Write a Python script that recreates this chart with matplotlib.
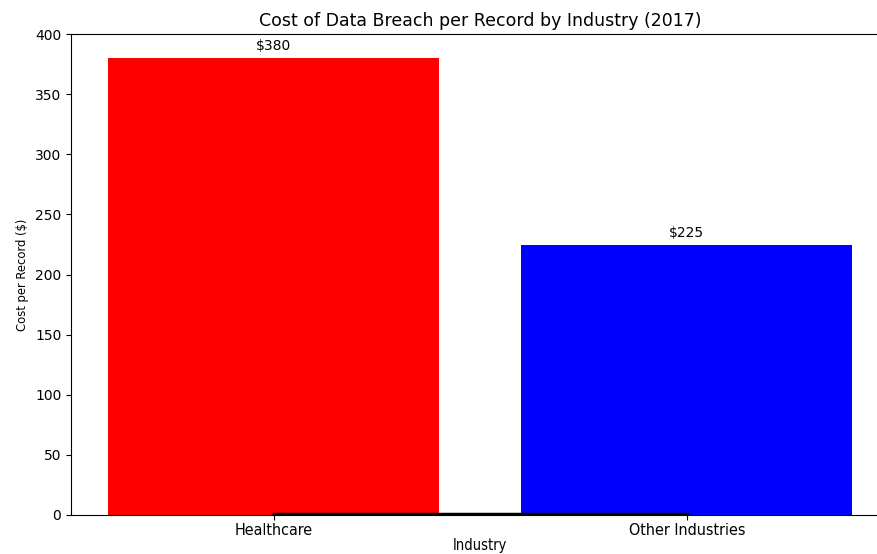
import matplotlib
matplotlib.use('Agg')
import matplotlib.pyplot as plt

industries = ['Healthcare', 'Other Industries']
costs = [380, 225]
bar_colors = ['red', 'blue']
labels = ['$380', '$225']
base_line = [1, 1]

fig = plt.figure(figsize=(8.77, 5.54), dpi=100)
ax = fig.add_axes([0.081, 0.0704, 0.933, 0.868])
bars = ax.bar(industries, costs, color=bar_colors, width=0.8)
ax.plot(industries, base_line, color='black', linewidth=2.5)
for b, t in zip(bars, labels):
	ax.text(b.get_x() + b.get_width() / 2, b.get_height() + 4, t, ha='center', va='bottom', fontsize=10)
ax.set_xlim(-0.49, 1.49)
ax.set_ylim(0, 400)
ax.set_title('Cost of Data Breach per Record by Industry (2017)', fontsize=12.5)
ax.set_xlabel('Industry', family='DejaVu Sans', stretch='condensed', fontsize=10.5)
ax.set_ylabel('Cost per Record ($)', family='DejaVu Sans', stretch='condensed', fontsize=9.3)
ax.tick_params(axis='x', pad=2.5)
for lab in ax.get_xticklabels():
	lab.set_stretch('condensed')
	lab.set_fontsize(11.5)
ax.xaxis.labelpad = 0
plt.savefig('out.png')
